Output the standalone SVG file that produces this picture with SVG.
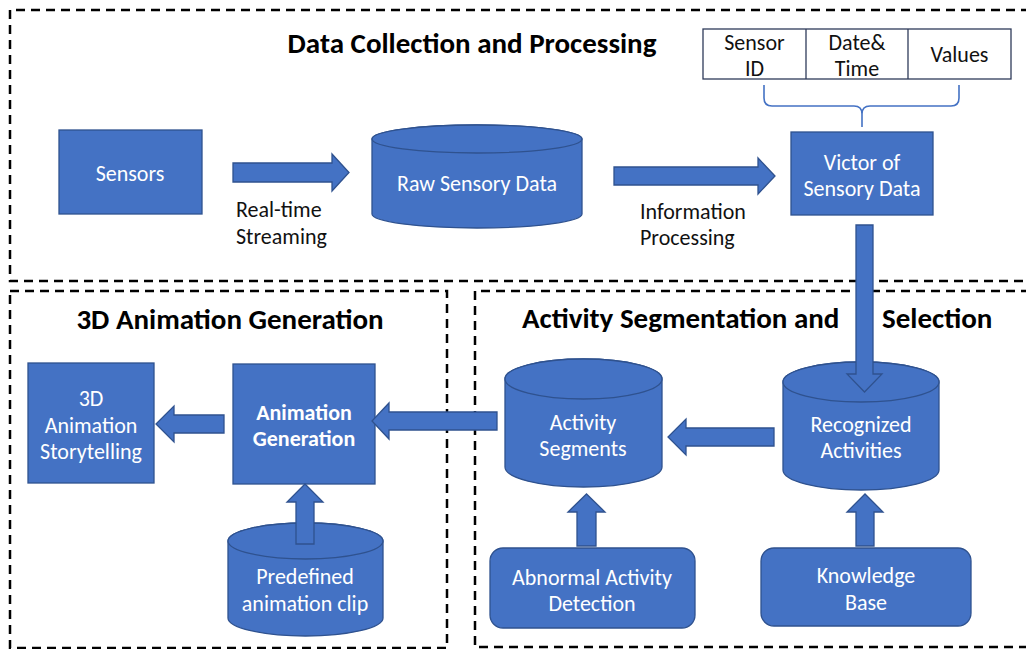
<svg xmlns="http://www.w3.org/2000/svg" width="1026" height="649" viewBox="0 0 1026 649">
<style>
.sh{fill:#4472C4;stroke:#2F528F;stroke-width:1.3}
.frame{fill:none;stroke:#000;stroke-width:2.5;stroke-dasharray:9 6}
.t{font-family:Carlito,Lato,"Noto Sans",sans-serif;font-size:22px;fill:#fff;text-anchor:middle;dominant-baseline:central}
.tb{font-weight:bold}
.lab{font-family:Carlito,Lato,"Noto Sans",sans-serif;font-size:22px;fill:#111;dominant-baseline:central}
.title{font-family:Carlito,Lato,"Noto Sans",sans-serif;font-size:29px;font-weight:bold;fill:#000;dominant-baseline:central}
</style>
<rect width="1026" height="649" fill="#fff"/>
<g id="frames">
<path class="frame" d="M1030,10 H10 V281 H1030"/>
<rect class="frame" x="10" y="291" width="437" height="357"/>
<path class="frame" d="M1030,291 H475 V647 H1030"/>
</g>
<g id="titles">
<text class="title" x="472" y="43" text-anchor="middle">Data Collection and Processing</text>
<text class="title" x="230" y="319" text-anchor="middle">3D Animation Generation</text>
<text class="title" y="318"><tspan x="522">Activity Segmentation and</tspan><tspan x="882">Selection</tspan></text>
</g>
<g id="sensors"><rect class="sh" x="59" y="130" width="143" height="84"/><text class="t" x="130" y="173">Sensors</text></g>
<g id="raw">
<path class="sh" d="M372,139 A105,14 0 0 1 582,139 V214 A105,14 0 0 1 372,214 Z"/>
<ellipse class="sh" cx="477" cy="139" rx="105" ry="14"/>
<text class="t" x="477" y="183">Raw Sensory Data</text>
</g>
<g id="victor"><rect class="sh" x="791" y="132" width="142" height="83"/><text class="t" x="862" y="162">Victor of</text><text class="t" x="862" y="188">Sensory Data</text></g>
<g id="table">
<rect x="703" y="29" width="308" height="50" fill="#fff" stroke="#2F3B5A" stroke-width="1.3"/>
<line x1="806" y1="29" x2="806" y2="79" stroke="#2F3B5A" stroke-width="1.3"/>
<line x1="908" y1="29" x2="908" y2="79" stroke="#2F3B5A" stroke-width="1.3"/>
<text class="lab" x="754.5" y="42" text-anchor="middle">Sensor</text>
<text class="lab" x="754.5" y="68" text-anchor="middle">ID</text>
<text class="lab" x="857" y="42" text-anchor="middle">Date&amp;</text>
<text class="lab" x="857" y="68" text-anchor="middle">Time</text>
<text class="lab" x="959.5" y="54" text-anchor="middle">Values</text>
</g>
<g id="storytelling"><rect class="sh" x="28" y="363" width="126" height="120"/><text class="t" x="91" y="398">3D</text><text class="t" x="91" y="425">Animation</text><text class="t" x="91" y="451">Storytelling</text></g>
<g id="animgen"><rect class="sh" x="233" y="364" width="142" height="120"/><text class="t tb" x="304" y="412">Animation</text><text class="t tb" x="304" y="438">Generation</text></g>
<g id="predefined">
<path class="sh" d="M228,541 A77.5,18 0 0 1 383,541 V618 A77.5,18 0 0 1 228,618 Z"/>
<ellipse class="sh" cx="305.5" cy="541" rx="77.5" ry="18"/>
<text class="t" x="305" y="576">Predefined</text><text class="t" x="305" y="603">animation clip</text>
</g>
<g id="segments">
<path class="sh" d="M505,379 A78.5,20 0 0 1 662,379 V467 A78.5,20 0 0 1 505,467 Z"/>
<ellipse class="sh" cx="583.5" cy="379" rx="78.5" ry="20"/>
<text class="t" x="583" y="422">Activity</text><text class="t" x="583" y="448">Segments</text>
</g>
<g id="recognized">
<path class="sh" d="M783,382 A78,20 0 0 1 939,382 V470 A78,20 0 0 1 783,470 Z"/>
<ellipse class="sh" cx="861" cy="382" rx="78" ry="20"/>
<text class="t" x="861" y="424">Recognized</text><text class="t" x="861" y="450">Activities</text>
</g>
<g id="abnormal"><rect class="sh" x="490" y="548" width="205" height="80" rx="13"/><text class="t" x="592" y="577">Abnormal Activity</text><text class="t" x="592" y="603">Detection</text></g>
<g id="knowledge"><rect class="sh" x="761" y="548" width="210" height="78" rx="13"/><text class="t" x="866" y="575">Knowledge</text><text class="t" x="866" y="602">Base</text></g>
<g id="connectors">
<path d="M764,85 V98 Q764,106 772,106 H854 Q862,106 862,114 V127 M862,114 Q862,106 870,106 H951 Q959,106 959,98 V85" fill="none" stroke="#4472C4" stroke-width="1.6"/>
<polygon class="sh" points="233,163 332,163 332,154 349,172.5 332,191 332,182 233,182"/>
<polygon class="sh" points="614,167 758,167 758,158 775,176 758,194 758,185 614,185"/>
<polygon class="sh" points="856,225 873,225 873,374 882,374 864.5,392 847,374 856,374"/>
<polygon class="sh" points="774,428 686,428 686,419 668,437 686,455 686,446 774,446"/>
<polygon class="sh" points="497,412 389,412 389,403 372,421 389,439 389,430 497,430"/>
<polygon class="sh" points="224,415 174,415 174,406 156,424 174,442 174,433 224,433"/>
<polygon class="sh" points="296,544 296,502 287,502 305,484 323,502 314,502 314,544"/>
<polygon class="sh" points="577,546 577,512 568,512 586.5,494 605,512 596,512 596,546"/>
<polygon class="sh" points="856,546 856,512 847,512 865,494 883,512 874,512 874,546"/>
<text class="lab" x="236" y="209">Real-time</text>
<text class="lab" x="236" y="236">Streaming</text>
<text class="lab" x="640" y="211">Information</text>
<text class="lab" x="640" y="237">Processing</text>
</g>
</svg>
